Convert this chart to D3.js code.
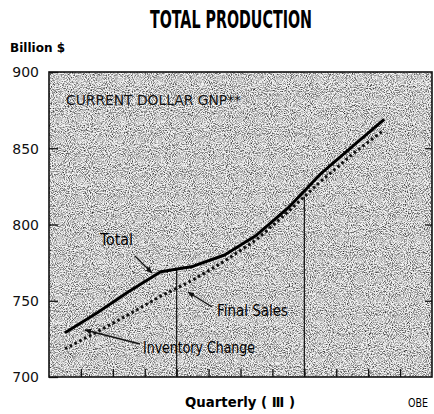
<!DOCTYPE html>
<html><head><meta charset="utf-8">
<script src="https://cdn.jsdelivr.net/npm/d3@7"></script>
<style>
html,body{margin:0;padding:0;background:#fff;}
svg{display:block;}
</style></head>
<body>
<script>
// ---- data ----
const quarters = [1,2,3,4,5,6,7,8,9,10,11];           // quarter index (3 years, last ends in III)
const total = [729, 742, 756, 769, 772.5, 780, 793, 811, 833, 851, 869];
const finalSales = [718.5, 729.5, 741, 753, 763.5, 776, 790, 808.5, 828, 846, 862];
const yTicks = [700, 750, 800, 850, 900];
const yearBreaks = [4, 8];   // boundaries between years (in quarter slots)
const quarterSlots = 12;

(function(){
const W = 434, H = 414;
const mL = 49, mR = 432, mT = 72, mB = 377;

const svg = d3.select("body").append("svg").attr("width", W).attr("height", H);

const x = d3.scaleLinear().domain([0, quarterSlots]).range([mL, mR]);
const y = d3.scaleLinear().domain([700, 900]).range([mB, mT]);

// texture
const defs = svg.append("defs");
const f = defs.append("filter").attr("id","grain").attr("x",0).attr("y",0).attr("width",1).attr("height",1);
f.append("feTurbulence").attr("type","fractalNoise").attr("baseFrequency","0.95").attr("numOctaves",2).attr("seed",7).attr("result","n");
f.append("feColorMatrix").attr("type","matrix")
 .attr("values","0 0 0 0 0  0 0 0 0 0  0 0 0 0 0  1.9 0 0 0 -0.78");
const mk = defs.append("marker").attr("id","arr").attr("viewBox","0 0 10 10").attr("refX",9).attr("refY",5)
  .attr("markerWidth",7).attr("markerHeight",7).attr("orient","auto-start-reverse").attr("markerUnits","userSpaceOnUse");
mk.append("path").attr("d","M0,1 L10,5 L0,9 z").attr("fill","#111");

svg.append("rect").attr("x",mL).attr("y",mT).attr("width",mR-mL).attr("height",mB-mT).attr("fill","#f2f2f2");
svg.append("rect").attr("x",mL).attr("y",mT).attr("width",mR-mL).attr("height",mB-mT).attr("fill","#000").attr("filter","url(#grain)");

// year dividers
function valAt(arr, slot){ const pos = slot - 0.5; const i = Math.floor(pos); const t = pos - i; return arr[i]*(1-t)+arr[i+1]*t; }
svg.append("g").selectAll("line").data(yearBreaks).join("line")
  .attr("x1", d=>x(d)).attr("x2", d=>x(d))
  .attr("y1", y(700)).attr("y2", (d,i)=> i===0 ? y(valAt(total,d)) : y(valAt(finalSales,d)))
  .attr("stroke","#111").attr("stroke-width",1.2);

// axes
const gl = svg.append("g").attr("transform",`translate(${mL},0)`)
  .call(d3.axisLeft(y).tickValues(yTicks).tickSizeInner(-9).tickSizeOuter(0).tickPadding(10).tickFormat(d3.format("d")));
gl.select(".domain").remove();
gl.selectAll("text").attr("font-family","DejaVu Sans, sans-serif").attr("font-size",14).attr("fill","#111").attr("dy","0.35em");
gl.selectAll("line").attr("stroke","#111").attr("stroke-width",1.3);

const gr = svg.append("g").attr("transform",`translate(${mR},0)`)
  .call(d3.axisRight(y).tickValues([750,800,850]).tickSizeInner(-7).tickSizeOuter(0).tickFormat(""));
gr.select(".domain").remove();
gr.selectAll("line").attr("stroke","#111").attr("stroke-width",1.3);

const gb = svg.append("g").attr("transform",`translate(0,${mB})`)
  .call(d3.axisBottom(x).tickValues(d3.range(1, quarterSlots)).tickSizeInner(-8).tickSizeOuter(0).tickFormat(""));
gb.select(".domain").remove();
gb.selectAll("line").attr("stroke","#111").attr("stroke-width",1.3);

// frame
svg.append("rect").attr("x",mL).attr("y",mT).attr("width",mR-mL).attr("height",mB-mT)
  .attr("fill","none").attr("stroke","#111").attr("stroke-width",1.6);

// lines
const line = d3.line().x((d,i)=>x(quarters[i]-0.5)).y(d=>y(d));
svg.append("path").datum(finalSales).attr("d",line).attr("fill","none").attr("stroke","#111")
  .attr("stroke-width",3).attr("stroke-dasharray","2.6,2.8");
svg.append("path").datum(total).attr("d",line).attr("fill","none").attr("stroke","#000")
  .attr("stroke-width",3).attr("stroke-linejoin","round");

// texts
const cond = "'Liberation Sans Narrow','DejaVu Sans Condensed','Arial Narrow',sans-serif";
svg.append("text").attr("x",231).attr("y",28).attr("text-anchor","middle")
  .attr("font-family",cond).attr("font-weight","bold").attr("font-size",24).attr("textLength",162)
  .attr("lengthAdjust","spacingAndGlyphs").text("TOTAL PRODUCTION");
svg.append("text").attr("x",10).attr("y",52).attr("font-family","DejaVu Sans, sans-serif").attr("font-weight","bold")
  .attr("font-size",12.5).attr("textLength",55).attr("lengthAdjust","spacingAndGlyphs").text("Billion $");
svg.append("text").attr("x",66).attr("y",105).attr("font-family",cond).attr("font-size",14.5)
  .attr("textLength",175).attr("lengthAdjust","spacingAndGlyphs").attr("fill","#111").text("CURRENT DOLLAR GNP**");
svg.append("text").attr("x",185).attr("y",407).attr("font-family","DejaVu Sans, sans-serif").attr("font-weight","bold")
  .attr("font-size",14).attr("textLength",110).attr("lengthAdjust","spacingAndGlyphs").text("Quarterly ( Ⅲ )");
svg.append("text").attr("x",408).attr("y",407).attr("font-family",cond).attr("font-size",12)
  .attr("textLength",20).attr("lengthAdjust","spacingAndGlyphs").text("OBE");

svg.append("text").attr("x",100).attr("y",245).attr("font-family",cond).attr("font-size",16)
  .attr("textLength",33).attr("lengthAdjust","spacingAndGlyphs").text("Total");
svg.append("text").attr("x",217).attr("y",316).attr("font-family",cond).attr("font-size",16)
  .attr("textLength",71).attr("lengthAdjust","spacingAndGlyphs").text("Final Sales");
svg.append("text").attr("x",143).attr("y",353).attr("font-family",cond).attr("font-size",16)
  .attr("textLength",112).attr("lengthAdjust","spacingAndGlyphs").text("Inventory Change");

// arrows
const arrows = [[135,256,152,273],[212,307,188,292],[140,344,85,330]];
svg.append("g").selectAll("line").data(arrows).join("line")
  .attr("x1",d=>d[0]).attr("y1",d=>d[1]).attr("x2",d=>d[2]).attr("y2",d=>d[3])
  .attr("stroke","#111").attr("stroke-width",1.3).attr("marker-end","url(#arr)");
})();
</script>
</body></html>
